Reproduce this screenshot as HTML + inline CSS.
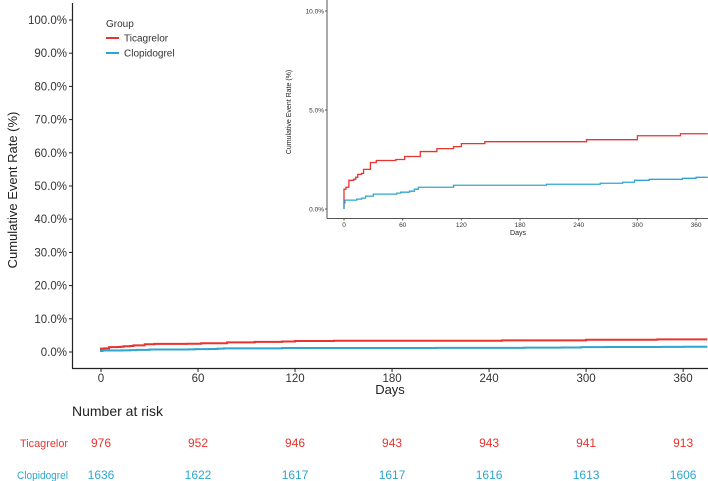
<!DOCTYPE html>
<html><head><meta charset="utf-8"><style>
html,body{margin:0;padding:0;background:#fff}
svg{display:block;font-family:"Liberation Sans",sans-serif}
</style></head><body>
<svg id="c" width="708" height="481" xmlns="http://www.w3.org/2000/svg"></svg>
<script>
const days=[0,1,2,5,10,12,14,18,20,27,33,53,62,78,95,112,120,144,248,300,344];
const ticaVals=[1.0,1.0,1.1,1.45,1.5,1.6,1.75,1.8,2.0,2.35,2.45,2.5,2.65,2.9,3.05,3.15,3.3,3.4,3.5,3.7,3.8];
const clopDays=[0,1,13,18,22,30,54,58,67,72,76,112,207,262,285,297,312,346,360];
const clopVals=[0.3,0.45,0.5,0.55,0.65,0.75,0.8,0.85,0.9,1.0,1.1,1.2,1.25,1.3,1.35,1.45,1.5,1.55,1.6];
const xTicks=[0,60,120,180,240,300,360];
const mainYTicks=[0,10,20,30,40,50,60,70,80,90,100];
const insetYTicks=[0,5,10];
const riskTica=[976,952,946,943,943,941,913];
const riskClop=[1636,1622,1617,1617,1616,1613,1606];
const RED='#e8332e',BLUE='#2fa6cf';
const svg=document.getElementById('c');
const NS='http://www.w3.org/2000/svg';
function mk(tag,attrs,txt){const e=document.createElementNS(NS,tag);for(const k in attrs)e.setAttribute(k,attrs[k]);if(txt!==undefined)e.textContent=txt;svg.appendChild(e);return e;}
function stepPath(ds,vs,xf,yf,endDay){let d='M'+xf(0)+','+yf(0);for(let i=0;i<ds.length;i++){d+=' H'+xf(ds[i])+' V'+yf(vs[i]);}d+=' H'+xf(endDay);return d;}
const mx=d=>101+d*1.617, my=v=>352-v*3.32;
let e;
e=mk('line',{x1:72.5,y1:3,x2:72.5,y2:368.5,stroke:'#222','stroke-width':1.2});

e=mk('line',{x1:72,y1:368.5,x2:708,y2:368.5,stroke:'#222','stroke-width':1.2});

mainYTicks.forEach(t=>{mk('line',{x1:69,x2:72,y1:my(t),y2:my(t),stroke:'#222'});
 e=mk('text',{x:67,y:my(t)+4,'text-anchor':'end','font-size':11.5,fill:'#333'},t.toFixed(1)+'%');
 });
xTicks.forEach(t=>{mk('line',{x1:mx(t),x2:mx(t),y1:369,y2:372,stroke:'#222'});
 e=mk('text',{x:mx(t),y:382,'text-anchor':'middle','font-size':11.5,fill:'#333'},t);
 });
e=mk('text',{x:390,y:394,'text-anchor':'middle','font-size':13,fill:'#222'},'Days');

e=mk('text',{x:0,y:0,'text-anchor':'middle','font-size':13,fill:'#222',transform:'translate(17,190) rotate(-90)'},'Cumulative Event Rate (%)');

e=mk('path',{d:stepPath(days,ticaVals,mx,my,375),fill:'none',stroke:RED,'stroke-width':2});

e=mk('path',{d:stepPath(clopDays,clopVals,mx,my,375),fill:'none',stroke:BLUE,'stroke-width':2});

e=mk('text',{x:106,y:27,'font-size':10,fill:'#333'},'Group');

mk('line',{x1:106,x2:119,y1:38,y2:38,stroke:RED,'stroke-width':2});
e=mk('text',{x:124,y:41.5,'font-size':10,fill:'#333'},'Ticagrelor');

mk('line',{x1:106,x2:119,y1:53,y2:53,stroke:BLUE,'stroke-width':2});
e=mk('text',{x:124,y:56.5,'font-size':10,fill:'#333'},'Clopidogrel');

const ix=d=>344+d*0.978, iy=v=>209-v*19.8;
e=mk('line',{x1:327,y1:0,x2:327,y2:218.5,stroke:'#555','stroke-width':1});

e=mk('line',{x1:327,y1:218.5,x2:708,y2:218.5,stroke:'#555','stroke-width':1});

insetYTicks.forEach(t=>{mk('line',{x1:325,x2:327,y1:iy(t),y2:iy(t),stroke:'#555'});
 e=mk('text',{x:324,y:iy(t)+2.5,'text-anchor':'end','font-size':6.5,fill:'#333'},t.toFixed(1)+'%');
 });
xTicks.forEach(t=>{mk('line',{x1:ix(t),x2:ix(t),y1:218.5,y2:220.5,stroke:'#555'});
 e=mk('text',{x:ix(t),y:227,'text-anchor':'middle','font-size':6.5,fill:'#333'},t);
 });
e=mk('text',{x:518,y:235,'text-anchor':'middle','font-size':7,fill:'#222'},'Days');

e=mk('text',{x:0,y:0,'text-anchor':'middle','font-size':7,fill:'#222',transform:'translate(291,112) rotate(-90)'},'Cumulative Event Rate (%)');

e=mk('path',{d:stepPath(days,ticaVals,ix,iy,372),fill:'none',stroke:RED,'stroke-width':1.3});

e=mk('path',{d:stepPath(clopDays,clopVals,ix,iy,372),fill:'none',stroke:BLUE,'stroke-width':1.3});

e=mk('text',{x:72,y:416,'font-size':14,fill:'#222'},'Number at risk');

e=mk('text',{x:20,y:447,'font-size':11,fill:RED,textLength:48,lengthAdjust:'spacingAndGlyphs'},'Ticagrelor');

e=mk('text',{x:17,y:479,'font-size':11,fill:BLUE,textLength:51,lengthAdjust:'spacingAndGlyphs'},'Clopidogrel');

xTicks.forEach((t,i)=>{
 e=mk('text',{x:mx(t),y:447,'text-anchor':'middle','font-size':12,fill:RED},riskTica[i]);
 
 e=mk('text',{x:mx(t),y:479,'text-anchor':'middle','font-size':12,fill:BLUE},riskClop[i]);
 
});
</script>
</body></html>
